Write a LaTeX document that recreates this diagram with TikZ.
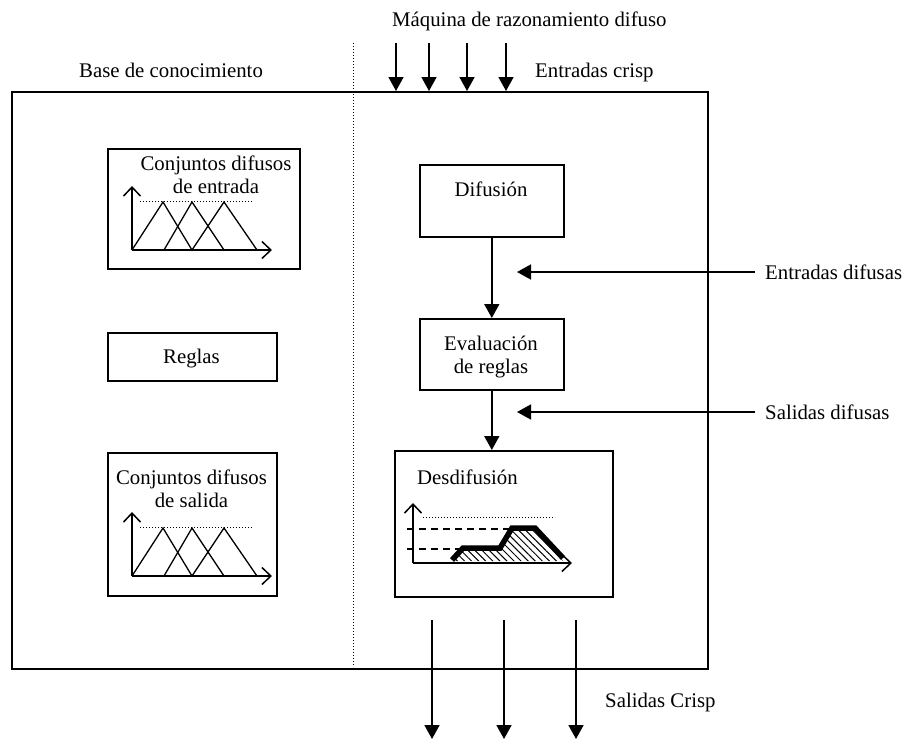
\documentclass[tikz,border=0pt]{standalone}
\usepackage{fontspec}
\setmainfont{Liberation Serif}
\usetikzlibrary{arrows.meta,patterns.meta}

% small membership-function chart: three triangles on a pair of axes
% #1 = y of the horizontal axis
\newcommand\fuzzychart[1]{%
  \draw[axisline] (132,#1) -- (132,{#1-64});
  \draw[axisline] (132,#1) -- (272,#1);
  \draw[guide] (140,{#1-49}) -- (252,{#1-49});
  \draw[memb] (132,#1) -- (163,{#1-48}) -- (192,#1);
  \draw[memb] (164,#1) -- (192,{#1-48}) -- (224,#1);
  \draw[memb] (192,#1) -- (224,{#1-48}) -- (257,#1);
}

\begin{document}
\begin{tikzpicture}[x=1pt,y=-1pt,
  txt/.style={font=\fontsize{20.8}{23}\selectfont, inner sep=0pt},
  box/.style={draw, line width=1.6pt, inner sep=0pt},
  arr/.style={line width=1.6pt, -{Triangle[length=14pt,width=15pt]}},
  axisline/.style={line width=1.5pt, -{Straight Barb[length=9pt,width=17pt,line width=1.5pt]}},
  memb/.style={line width=1.3pt},
  guide/.style={dotted, line width=1pt},
  levels/.style={dashed, dash pattern=on 7pt off 5pt, line width=1.3pt}
]
\useasboundingbox (0,0) rectangle (908,740);

% ---------- outer frame and separator ----------
\node[box, minimum width=696pt, minimum height=577pt, anchor=north west] (frame) at (11,91) {};
\coordinate (sepTop) at (353,43);
\draw[guide] (sepTop) -- (353,665);

% ---------- headings ----------
\node[txt, anchor=base west] (title) at (392,26) {Máquina de razonamiento difuso};
\node[txt, anchor=base west] (kb) at (79,77) {Base de conocimiento};
\node[txt, anchor=base west] (crispin) at (535,77) {Entradas crisp};

% crisp inputs
\foreach \x [count=\i] in {396,429,467,506} {
  \coordinate (in\i) at (\x,43);
  \draw[arr] (in\i) -- (in\i |- frame.north);
}

% ---------- knowledge base ----------
% (base anchor of a two-line node sits on its last line)
\node[box, minimum width=192pt, minimum height=120pt, anchor=north west] (setsIn) at (107,148) {};
\node[txt, align=center, anchor=base] (setsInTxt) at (216,193) {Conjuntos difusos\\de entrada};
\fuzzychart{250}

\node[box, minimum width=169pt, minimum height=48pt, anchor=north west] (rules) at (107,332) {};
\node[txt, anchor=base] (rulesTxt) at (191.5,363) {Reglas};

\node[box, minimum width=169pt, minimum height=143pt, anchor=north west] (setsOut) at (107,452) {};
\node[txt, align=center, anchor=base] (setsOutTxt) at (191.5,507) {Conjuntos difusos\\de salida};
\fuzzychart{576}

% ---------- inference engine ----------
\node[box, minimum width=144pt, minimum height=72pt, anchor=north west] (fuzz) at (419,164) {};
\node[txt, anchor=base] (fuzzTxt) at (491,196) {Difusión};

\node[box, minimum width=144pt, minimum height=71pt, anchor=north west] (eval) at (419,318) {};
\node[txt, align=center, anchor=base] (evalTxt) at (491,373) {Evaluación\\de reglas};

\node[box, minimum width=218pt, minimum height=146pt, anchor=north west] (defuzz) at (394,450) {};
\node[txt, anchor=base west] (defuzzTxt) at (417,484) {Desdifusión};

\draw[arr] (fuzz.south) -- (eval.north);
\draw[arr] (eval.south) -- (eval.south |- defuzz.north);

% defuzzification sketch
\fill[pattern={Lines[angle=-45,distance=5pt,line width=1pt]}]
  (452,561) -- (463,548) -- (500,548) -- (512,528) -- (535,528) -- (563,561) -- cycle;
\draw[axisline] (413,563) -- (413,503);
\draw[axisline] (413,563) -- (572,563);
\draw[guide] (423,517) -- (555,517);
\draw[levels] (407,529) -- (510,529);
\draw[levels] (407,549) -- (462,549);
\draw[line width=5.5pt, line join=miter]
  (452,560) -- (463,548) -- (500,548) -- (512,528) -- (535,528) -- (563,558);

% fuzzy signals entering from the right
\coordinate (fuzzInSrc) at (755,272);
\coordinate (fuzzInDst) at (517,272);
\draw[arr] (fuzzInSrc) -- (fuzzInDst);
\node[txt, anchor=base west] (fuzzInTxt) at (765,279) {Entradas difusas};

\coordinate (fuzzOutSrc) at (755,412);
\coordinate (fuzzOutDst) at (517,412);
\draw[arr] (fuzzOutSrc) -- (fuzzOutDst);
\node[txt, anchor=base west] (fuzzOutTxt) at (765,419) {Salidas difusas};

% crisp outputs
\foreach \x [count=\i] in {432,504,576} {
  \coordinate (out\i) at (\x,620);
  \coordinate (outEnd\i) at (\x,739);
  \draw[arr] (out\i) -- (outEnd\i);
}
\node[txt, anchor=base west] (crispout) at (605,707) {Salidas Crisp};

\end{tikzpicture}
\end{document}
